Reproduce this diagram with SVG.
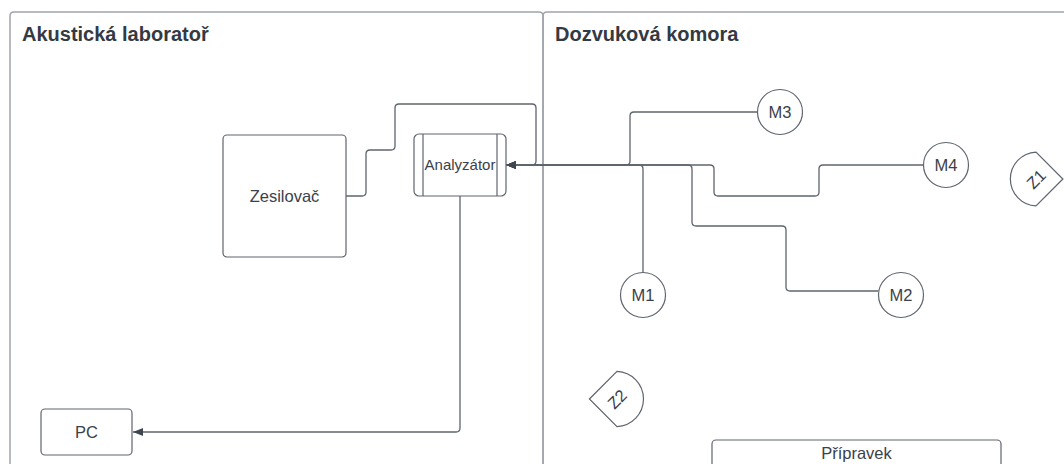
<svg xmlns="http://www.w3.org/2000/svg" width="1064" height="464" viewBox="0 0 1064 464">
<style>
.cont{fill:none;stroke:#a0a4ab;stroke-width:1.5}
.title{font-family:"Liberation Sans",Arial,sans-serif;font-weight:bold;font-size:20px;fill:#333a44}
.node{fill:#fff;stroke:#5f656e;stroke-width:1.2}
.lbl{font-family:"Liberation Sans",Arial,sans-serif;font-size:16.5px;fill:#3a414b;text-anchor:middle}
.conn{fill:none;stroke:#5f656e;stroke-width:1.3}
</style>
<defs>
<marker id="arr" viewBox="0 0 10 10" refX="10" refY="5" markerWidth="10" markerHeight="10" markerUnits="userSpaceOnUse" orient="auto">
<path d="M0,1 L10,5 L0,9 Z" fill="#3f4650"/>
</marker>
</defs>
<rect width="1064" height="464" fill="#fff"/>
<g id="containers">
<path class="cont" d="M10,470 V16 Q10,12 14,12 H539 Q543,12 543,16 V470"/>
<path class="cont" d="M543,470 V16 Q543,12 547,12 H1070"/>
<text class="title" x="22" y="41">Akustická laboratoř</text>
<text class="title" x="555" y="41">Dozvuková komora</text>
</g>
<g id="connectors">
<path class="conn" d="M346,196 H362 Q366,196 366,192 V154 Q366,150 370,150 H391 Q395,150 395,146 V108 Q395,104 399,104 H532 Q536,104 536,108 V161 Q536,165 532,165 H510"/>
<path class="conn" marker-end="url(#arr)" d="M757.5,112 H634 Q630,112 630,116 V161 Q630,165 626,165 H506"/>
<path class="conn" marker-end="url(#arr)" d="M643,272.5 V169 Q643,165 639,165 H506"/>
<path class="conn" marker-end="url(#arr)" d="M878.5,291 H790 Q786,291 786,287 V230 Q786,226 782,226 H696 Q692,226 692,222 V169 Q692,165 688,165 H506"/>
<path class="conn" marker-end="url(#arr)" d="M923.5,165 H823 Q819,165 819,169 V192 Q819,196 815,196 H718 Q714,196 714,192 V169 Q714,165 710,165 H506"/>
<path class="conn" marker-end="url(#arr)" d="M460,196 V428 Q460,432 456,432 H133"/>
</g>
<g id="zesilovac">
<rect class="node" x="223" y="135" width="123" height="122" rx="4"/>
<text class="lbl" x="284.5" y="201.5">Zesilovač</text>
</g>
<g id="analyzator">
<rect class="node" x="414" y="134" width="92" height="62" rx="5"/>
<line class="node" x1="423" y1="134" x2="423" y2="196"/>
<line class="node" x1="497" y1="134" x2="497" y2="196"/>
<text class="lbl" x="460" y="170" style="font-size:15px">Analyzátor</text>
</g>
<g id="pc">
<rect class="node" x="41" y="409" width="91" height="46" rx="4"/>
<text class="lbl" x="86.5" y="438">PC</text>
</g>
<g id="m3">
<circle class="node" cx="780" cy="112" r="22.5"/>
<text class="lbl" x="780" y="118">M3</text>
</g>
<g id="m4">
<circle class="node" cx="946" cy="165" r="22.5"/>
<text class="lbl" x="946" y="171">M4</text>
</g>
<g id="m1">
<circle class="node" cx="643" cy="295" r="22.5"/>
<text class="lbl" x="643" y="301">M1</text>
</g>
<g id="m2">
<circle class="node" cx="901" cy="295" r="22.5"/>
<text class="lbl" x="901" y="301">M2</text>
</g>
<g id="z1" transform="translate(1036,179) rotate(-45)">
<path class="node" d="M19,19 L-19,19 A26.9,26.9 0 0 1 19,-19 Z"/>
<text class="lbl" x="0" y="6">Z1</text>
</g>
<g id="z2" transform="translate(617,399) rotate(-45)">
<path class="node" d="M-19.5,-19.5 L19.5,-19.5 A27.6,27.6 0 0 1 -19.5,19.5 Z"/>
<text class="lbl" x="0" y="6">Z2</text>
</g>
<g id="pripravek">
<rect class="node" x="712" y="440" width="289" height="40" rx="4"/>
<text class="lbl" x="856.5" y="458.5">Přípravek</text>
</g>
</svg>
